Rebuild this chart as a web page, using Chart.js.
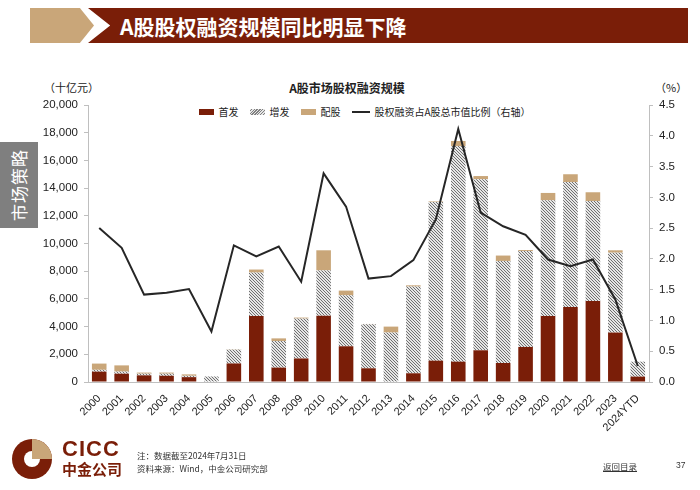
<!DOCTYPE html>
<html>
<head>
<meta charset="utf-8">
<script src="https://cdn.jsdelivr.net/npm/chart.js@4.4.1/dist/chart.umd.min.js"></script>
<style>
  html, body { margin: 0; padding: 0; }
  body { width: 700px; height: 490px; position: relative; background: #fff; overflow: hidden;
         font-family: 'Liberation Sans', Arial, 'Noto Sans CJK SC', sans-serif; }
  .abs { position: absolute; }
  #banner-tan { left: 30px; top: 8px; width: 64px; height: 35px; background: #c9a679;
                clip-path: polygon(0 0, 78% 0, 100% 50%, 78% 100%, 0 100%); }
  #banner-red { left: 88px; top: 8px; width: 600px; height: 35px; background: #7a1e08;
                clip-path: polygon(0 0, 100% 0, 100% 100%, 0 100%, 3.7% 50%); }
  #banner-text { left: 120px; top: 11px; color: #fff; font-size: 21px; font-weight: bold;
                 font-family: 'Noto Sans CJK SC', sans-serif; }
  #side-tab { left: 0; top: 142px; width: 38px; height: 86px; background: #7f7f7f; }
  #side-text { left: -24px; top: 173px; width: 86px; height: 24px; line-height: 24px; text-align: center;
               color: #fff; font-family: 'Noto Sans CJK SC', sans-serif; font-size: 17px;
               transform: rotate(-90deg); letter-spacing: 1px; }
  .cap { font-family: 'Noto Sans CJK SC', sans-serif; color: #222; }
  #chart-title { left: 200px; width: 294px; top: 79px; text-align: center; font-weight: bold; font-size: 12px; }
  #unit-left { left: 44px; top: 79px; font-size: 11px; }
  #unit-right { left: 655px; top: 79px; font-size: 11px; }
  #legend { left: 0; width: 700px; top: 104px; display: flex; justify-content: center; padding-left: 30px; box-sizing: border-box;
            font-family: 'Noto Sans CJK SC', sans-serif; font-size: 10px; color: #222; }
  .lg { display: flex; align-items: center; margin: 0 6px; }
  .sw { display: inline-block; width: 15px; height: 6px; margin-right: 4px; }
  .ln { display: inline-block; width: 18px; height: 2px; margin-right: 4px; background: #262626; }
  #chart { left: 0; top: 0; }
  #logo-cn { left: 62px; top: 458px; font-size: 15px; font-weight: bold; color: #7a1e08; font-family: 'Noto Sans CJK SC', sans-serif; }
  #logo-en { left: 62px; top: 436px; font-size: 22px; font-weight: bold; color: #7a1e08; letter-spacing: 1px; }
  .note { left: 137px; font-size: 8.5px; color: #333; font-family: 'Noto Sans CJK SC', sans-serif; }
  #back { left: 603px; top: 460px; font-size: 8.5px; color: #333; text-decoration: underline; font-family: 'Noto Sans CJK SC', sans-serif; }
  #page { left: 676px; top: 460px; font-size: 8.5px; color: #333; }
</style>
</head>
<body>
<div id="banner-tan" class="abs"></div>
<div id="banner-red" class="abs"></div>
<div id="banner-text" class="abs">A股股权融资规模同比明显下降</div>
<div id="side-tab" class="abs"></div>
<div id="side-text" class="abs">市场策略</div>

<div id="chart-title" class="abs cap">A股市场股权融资规模</div>
<div id="unit-left" class="abs cap">（十亿元）</div>
<div id="unit-right" class="abs cap">（%）</div>
<div id="legend" class="abs"></div>

<canvas id="chart" class="abs" width="700" height="490"></canvas>

<svg class="abs" style="left:11px;top:438px" width="42" height="42" viewBox="0 0 42 42">
  <circle cx="21" cy="21" r="20" fill="#7a1e08"/>
  <path d="M21 1 A20 20 0 0 1 41 21 L29 21 A8 8 0 0 0 21 13 Z" fill="#c9a679"/>
  <circle cx="21" cy="21" r="8" fill="#fff"/>
  <rect x="21" y="13" width="9" height="8" fill="#c9a679"/>
</svg>
<div id="logo-en" class="abs">CICC</div>
<div id="logo-cn" class="abs">中金公司</div>
<div class="abs note" style="top:449px">注：数据截至2024年7月31日</div>
<div class="abs note" style="top:462px">资料来源：Wind，中金公司研究部</div>
<div id="back" class="abs">返回目录</div>
<div id="page" class="abs">37</div>

<script>
// ---- data ----
const years = ['2000', '2001', '2002', '2003', '2004', '2005', '2006', '2007', '2008', '2009',
    '2010', '2011', '2012', '2013', '2014', '2015', '2016', '2017', '2018', '2019',
    '2020', '2021', '2022', '2023', '2024YTD'];

// 十亿元
const ipo = [750, 600, 480, 450, 350, 0, 1340, 4770, 1040, 1700,
    4790, 2580, 990, 0, 630, 1540, 1470, 2290, 1370, 2530,
    4770, 5420, 5850, 3570, 390];
const followOn = [130, 150, 120, 150, 100, 400, 1000, 3130, 1920, 2880,
    3270, 3680, 3180, 3570, 6260, 11460, 15570, 12350, 7370, 6930,
    8350, 9020, 7220, 5770, 1080];
const rights = [450, 450, 80, 80, 100, 0, 20, 220, 190, 70,
    1450, 340, 20, 430, 90, 40, 360, 230, 390, 70,
    530, 560, 630, 170, 0];

// %
const shareOfMktCap = [2.50, 2.18, 1.42, 1.45, 1.51, 0.82, 2.22, 2.04, 2.20, 1.63,
    3.39, 2.85, 1.68, 1.72, 1.98, 2.64, 4.11, 2.75, 2.53, 2.39,
    1.99, 1.88, 1.99, 1.34, 0.26];

const leftTicks = [0, 2000, 4000, 6000, 8000, 10000, 12000, 14000, 16000, 18000, 20000];
const rightTicks = [0, 0.5, 1, 1.5, 2, 2.5, 3, 3.5, 4, 4.5];

// ---- styles ----
const RED = '#7a1e08';
const TAN = '#c9a679';
const LINE = '#262626';
const AXIS = '#bfbfbf';
const FONT = "'Liberation Sans', Arial, sans-serif";

// dense grey diagonal hatch for 增发
function hatchPattern() {
    const c = document.createElement('canvas');
    c.width = c.height = 3;
    const g = c.getContext('2d');
    g.fillStyle = '#e6e6e6';
    g.fillRect(0, 0, 3, 3);
    g.strokeStyle = '#707070';
    g.lineWidth = 1;
    g.beginPath();
    g.moveTo(0, 0); g.lineTo(3, 3);
    g.moveTo(-3, 0); g.lineTo(0, 3);
    g.moveTo(0, -3); g.lineTo(3, 0);
    g.stroke();
    return g.createPattern(c, 'repeat');
}
const HATCH = hatchPattern();

// legend in HTML (sits between title and plot top)
const legendItems = [
    { label: '首发', type: 'box', bg: RED },
    { label: '增发', type: 'hatch' },
    { label: '配股', type: 'box', bg: TAN },
    { label: '股权融资占A股总市值比例（右轴）', type: 'line' }
];
const legendEl = document.getElementById('legend');
legendItems.forEach(it => {
    const d = document.createElement('div');
    d.className = 'lg';
    let sw;
    if (it.type === 'line') {
        sw = '<span class="ln"></span>';
    } else if (it.type === 'hatch') {
        sw = '<span class="sw" style="background:repeating-linear-gradient(-45deg,#e6e6e6 0 1px,#808080 1px 2px)"></span>';
    } else {
        sw = '<span class="sw" style="background:' + it.bg + '"></span>';
    }
    d.innerHTML = sw + it.label;
    legendEl.appendChild(d);
});

const ctx = document.getElementById('chart');
new Chart(ctx, {
    data: {
        labels: years,
        datasets: [
            {
                type: 'line',
                label: '股权融资占A股总市值比例（右轴）',
                data: shareOfMktCap,
                yAxisID: 'y1',
                borderColor: LINE,
                borderWidth: 2,
                pointRadius: 0,
                tension: 0,
                order: 0
            },
            { type: 'bar', label: '首发', data: ipo, backgroundColor: RED, yAxisID: 'y', order: 1 },
            { type: 'bar', label: '增发', data: followOn, backgroundColor: HATCH, yAxisID: 'y', order: 1 },
            { type: 'bar', label: '配股', data: rights, backgroundColor: TAN, yAxisID: 'y', order: 1 }
        ]
    },
    options: {
        responsive: false,
        animation: false,
        layout: { padding: { top: 105, bottom: 48, left: 0, right: 0 } },
        datasets: { bar: { categoryPercentage: 1, barPercentage: 0.65 } },
        plugins: { legend: { display: false }, tooltip: { enabled: false } },
        scales: {
            x: {
                stacked: true,
                grid: { display: false },
                border: { color: AXIS },
                ticks: {
                    autoSkip: false, minRotation: 45, maxRotation: 45,
                    color: '#222', font: { family: FONT, size: 11 }, padding: 2
                },
                afterFit(scale) { scale.height = 60; }
            },
            y: {
                stacked: true,
                position: 'left',
                min: 0, max: 20000,
                afterBuildTicks(scale) { scale.ticks = leftTicks.map(v => ({ value: v })); },
                grid: { drawOnChartArea: false, color: AXIS, tickLength: 4 },
                border: { color: AXIS },
                ticks: {
                    color: '#222', font: { family: FONT, size: 11.5 }, padding: 6,
                    callback: v => v.toLocaleString('en-US')
                },
                afterFit(scale) { scale.width = 88; }
            },
            y1: {
                position: 'right',
                min: 0, max: 4.5,
                afterBuildTicks(scale) { scale.ticks = rightTicks.map(v => ({ value: v })); },
                grid: { drawOnChartArea: false, color: AXIS, tickLength: 4 },
                border: { color: AXIS },
                ticks: {
                    color: '#222', font: { family: FONT, size: 11.5 }, padding: 6,
                    callback: v => v.toFixed(1)
                },
                afterFit(scale) { scale.width = 51; }
            }
        }
    }
});
</script>
</body>
</html>
